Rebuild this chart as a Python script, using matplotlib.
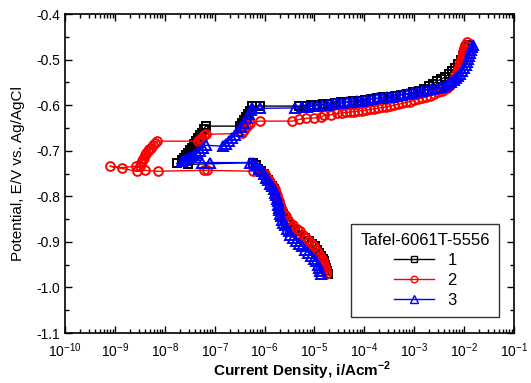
import numpy as np
import matplotlib
matplotlib.use("Agg")
import matplotlib.pyplot as plt
from matplotlib.ticker import FixedLocator, MultipleLocator, FormatStrFormatter, NullFormatter

plt.rcParams["font.family"] = ["Liberation Sans", "DejaVu Sans"]
plt.rcParams["mathtext.fontset"] = "custom"
plt.rcParams["mathtext.rm"] = "Liberation Sans"
plt.rcParams["mathtext.bf"] = "Liberation Sans:bold"
plt.rcParams["axes.unicode_minus"] = False

# ── Data: log10 current density (A/cm2) and potential (V vs Ag/AgCl) ──
# run 1: cathodic branch, then passage through Ecorr and anodic branch
logi_1 = [-4.72, -4.74, -4.76, -4.78, -4.80, -4.82, -4.86, -4.90, -4.94, -4.98,
          -5.04, -5.10, -5.18, -5.30, -5.38, -5.44, -5.50, -5.54, -5.58, -5.62,
          -5.64, -5.68, -5.70, -5.72, -5.74, -5.76, -5.78, -5.80, -5.82, -5.86,
          -5.90, -5.94, -5.98, -6.02, -6.08, -6.14, -6.18, -6.24,
          -7.54, -7.76,
          -7.66, -7.62, -7.58, -7.54, -7.50, -7.46, -7.42, -7.38, -7.34, -7.30,
          -7.26, -7.22, -7.18,
          -6.50, -6.46, -6.42, -6.38, -6.34, -6.30, -6.26, -6.10,
          -5.30, -5.18, -5.06, -4.94, -4.82, -4.70, -4.58, -4.46, -4.34, -4.22,
          -4.10, -3.98, -3.86, -3.74, -3.62, -3.50, -3.38, -3.26, -3.14, -3.02,
          -2.90, -2.80, -2.70, -2.62, -2.54, -2.46, -2.38, -2.30, -2.24, -2.18,
          -2.12, -2.06, -2.02, -1.98, -1.94, -1.90]
e_1 = [-0.970, -0.963, -0.957, -0.950, -0.943, -0.937, -0.930, -0.924, -0.917, -0.910,
       -0.904, -0.897, -0.891, -0.884, -0.877, -0.871, -0.864, -0.858, -0.851, -0.844,
       -0.838, -0.831, -0.825, -0.818, -0.811, -0.805, -0.798, -0.792, -0.785, -0.778,
       -0.772, -0.765, -0.759, -0.752, -0.745, -0.739, -0.732, -0.726,
       -0.730, -0.728,
       -0.721, -0.715, -0.710, -0.704, -0.699, -0.693, -0.686, -0.679, -0.673, -0.666,
       -0.660, -0.653, -0.646,
       -0.646, -0.640, -0.633, -0.627, -0.620, -0.613, -0.602, -0.602,
       -0.602, -0.601, -0.600, -0.599, -0.598, -0.597, -0.596, -0.594, -0.593, -0.591,
       -0.590, -0.588, -0.587, -0.585, -0.583, -0.581, -0.579, -0.577, -0.575, -0.572,
       -0.568, -0.564, -0.558, -0.553, -0.547, -0.543, -0.538, -0.532, -0.525, -0.519,
       -0.510, -0.501, -0.492, -0.484, -0.475, -0.468]

# run 2
logi_2 = [-4.76, -4.76, -4.78, -4.80, -4.82, -4.84, -4.88, -4.92, -4.96, -5.00,
          -5.04, -5.10, -5.16, -5.22, -5.28, -5.34, -5.42, -5.48, -5.54, -5.58,
          -5.62, -5.66, -5.68, -5.70, -5.72, -5.74, -5.76, -5.78, -5.80, -5.84,
          -5.88, -5.92, -5.96, -6.00, -6.06, -6.14, -6.24,
          -7.16, -7.22, -8.14, -8.40, -8.56, -9.10, -8.86, -8.58,
          -8.50, -8.48, -8.46, -8.44, -8.42, -8.40, -8.38, -8.34, -8.32, -8.28,
          -8.24, -8.20, -8.16,
          -7.34, -7.30, -7.26, -7.22, -7.18,
          -6.46, -6.42, -6.38, -6.34, -6.30, -6.10,
          -5.44, -5.30, -5.16, -5.00, -4.86, -4.80, -4.66, -4.54, -4.44, -4.36,
          -4.28, -4.20, -4.12, -4.04, -3.96, -3.88, -3.80, -3.72, -3.64, -3.56,
          -3.48, -3.40, -3.32, -3.24, -3.16, -3.08, -3.00, -2.92, -2.84, -2.76,
          -2.68, -2.60, -2.52, -2.44, -2.38, -2.34, -2.30, -2.26, -2.22, -2.20,
          -2.16, -2.14, -2.12, -2.10, -2.08, -2.06, -2.04, -2.03, -2.02, -2.00,
          -1.98, -1.94]
e_2 = [-0.970, -0.963, -0.957, -0.950, -0.943, -0.937, -0.930, -0.924, -0.917, -0.910,
       -0.904, -0.897, -0.891, -0.884, -0.877, -0.871, -0.864, -0.858, -0.851, -0.844,
       -0.838, -0.831, -0.825, -0.818, -0.811, -0.805, -0.798, -0.792, -0.785, -0.778,
       -0.772, -0.765, -0.759, -0.752, -0.748, -0.745, -0.745,
       -0.743, -0.743, -0.745, -0.743, -0.745, -0.734, -0.737, -0.734,
       -0.734, -0.728, -0.723, -0.719, -0.715, -0.710, -0.706, -0.701, -0.697, -0.693,
       -0.688, -0.684, -0.679,
       -0.679, -0.675, -0.671, -0.666, -0.664,
       -0.662, -0.655, -0.649, -0.644, -0.640, -0.635,
       -0.635, -0.631, -0.629, -0.628, -0.626, -0.622, -0.621, -0.618, -0.617, -0.616,
       -0.615, -0.614, -0.613, -0.612, -0.611, -0.609, -0.608, -0.607, -0.605, -0.604,
       -0.602, -0.600, -0.598, -0.596, -0.594, -0.592, -0.589, -0.587, -0.584, -0.582,
       -0.579, -0.576, -0.572, -0.568, -0.565, -0.562, -0.558, -0.554, -0.547, -0.541,
       -0.534, -0.528, -0.521, -0.514, -0.508, -0.501, -0.495, -0.488, -0.481, -0.475,
       -0.468, -0.462]

# run 3
logi_3 = [-4.86, -4.88, -4.90, -4.92, -4.96, -5.00, -5.06, -5.12, -5.18, -5.24,
          -5.30, -5.36, -5.42, -5.48, -5.52, -5.56, -5.60, -5.64, -5.66, -5.68,
          -5.70, -5.72, -5.72, -5.74, -5.74, -5.76, -5.78, -5.80, -5.82, -5.86,
          -5.90, -5.94, -5.98, -6.02, -6.06, -6.12, -6.18, -6.24, -6.30,
          -7.10, -7.26, -7.66,
          -7.60, -7.54, -7.48, -7.42, -7.36, -7.30, -7.24, -7.18,
          -6.84, -6.78, -6.72, -6.66, -6.60, -6.54, -6.48, -6.42, -6.36, -6.32,
          -6.28, -6.26, -6.10,
          -5.38, -5.24, -5.14, -5.04, -4.94, -4.84, -4.74, -4.64, -4.54, -4.44,
          -4.34, -4.24, -4.14, -4.04, -3.94, -3.84, -3.74, -3.64, -3.54, -3.44,
          -3.34, -3.24, -3.14, -3.04, -2.94, -2.84, -2.74, -2.64, -2.54, -2.46,
          -2.38, -2.32, -2.26, -2.20, -2.16, -2.12, -2.08, -2.04, -2.00, -1.96,
          -1.94, -1.92, -1.90, -1.88, -1.86, -1.84, -1.82]
e_3 = [-0.970, -0.963, -0.957, -0.950, -0.943, -0.937, -0.930, -0.924, -0.917, -0.910,
       -0.904, -0.897, -0.891, -0.884, -0.877, -0.871, -0.864, -0.858, -0.851, -0.844,
       -0.838, -0.831, -0.825, -0.818, -0.811, -0.805, -0.798, -0.792, -0.785, -0.778,
       -0.772, -0.765, -0.759, -0.752, -0.745, -0.739, -0.732, -0.728, -0.726,
       -0.726, -0.726, -0.723,
       -0.720, -0.717, -0.714, -0.710, -0.706, -0.701, -0.695, -0.688,
       -0.690, -0.686, -0.679, -0.673, -0.666, -0.657, -0.649, -0.640, -0.629, -0.620,
       -0.611, -0.607, -0.607,
       -0.606, -0.605, -0.604, -0.602, -0.601, -0.600, -0.599, -0.598, -0.596, -0.595,
       -0.594, -0.593, -0.591, -0.590, -0.589, -0.587, -0.585, -0.584, -0.583, -0.581,
       -0.579, -0.577, -0.576, -0.574, -0.572, -0.569, -0.567, -0.565, -0.563, -0.561,
       -0.557, -0.554, -0.550, -0.545, -0.541, -0.536, -0.531, -0.525, -0.519, -0.512,
       -0.506, -0.499, -0.492, -0.486, -0.479, -0.473, -0.468]

SERIES = [
    ("1", logi_1, e_1, "black", "s", 5.2),
    ("2", logi_2, e_2, "#ff0000", "o", 6.3),
    ("3", logi_3, e_3, "#0000ff", "^", 7.0),
]

# ── Plot ─────────────────────────────────────────────────────────
fig = plt.figure(figsize=(5.31, 3.83), dpi=100)
ax = fig.add_axes([0.1224, 0.1305, 0.8456, 0.8329])

for label, logi, e, color, marker, ms in SERIES:
    ax.plot(10.0 ** np.array(logi), e, color=color, linewidth=1.0,
            marker=marker, markersize=ms, markerfacecolor="none",
            markeredgecolor=color, markeredgewidth=1.4, label=label)

ax.set_xscale("log")
ax.set_xlim(1e-10, 1e-1)
ax.set_ylim(-1.1, -0.4)
ax.yaxis.set_major_locator(MultipleLocator(0.1))
ax.yaxis.set_minor_locator(MultipleLocator(0.05))
ax.yaxis.set_major_formatter(FormatStrFormatter("%.1f"))

decades = [10.0 ** k for k in range(-10, 0)]
minors = [m * 10.0 ** k for k in range(-10, -1) for m in range(2, 10)]
ax.xaxis.set_major_locator(FixedLocator(decades))
ax.xaxis.set_minor_locator(FixedLocator(minors))
ax.xaxis.set_minor_formatter(NullFormatter())

ax.tick_params(which="both", direction="in", top=True, right=True)
ax.tick_params(axis="y", labelsize=10)
ax.tick_params(axis="x", labelsize=10, pad=6)
ax.tick_params(which="major", length=5, width=1.0)
ax.tick_params(which="minor", length=3, width=1.0)
for s in ax.spines.values():
    s.set_linewidth(1.2)

ax.set_ylabel("Potential, E/V vs. Ag/AgCl", fontsize=11)
ax.set_xlabel(r"Current Density, i/Acm$^{\mathbf{-2}}$", fontsize=11, fontweight="bold")
ax.yaxis.set_label_coords(-0.09, 0.5)
ax.xaxis.set_label_coords(0.529, -0.085)

leg = ax.legend(title="Tafel-6061T-5556", loc="lower right",
                bbox_to_anchor=(0.967, 0.05), borderaxespad=0, fontsize=12,
                title_fontsize=12, frameon=True, fancybox=False, edgecolor="black",
                handlelength=2.4, markerscale=0.75, labelspacing=0.3,
                borderpad=0.55, handletextpad=0.8)
leg.get_frame().set_linewidth(1.0)
for h in leg.legend_handles:
    h.set_markeredgewidth(1.0)

fig.savefig("out.png", dpi=100)
